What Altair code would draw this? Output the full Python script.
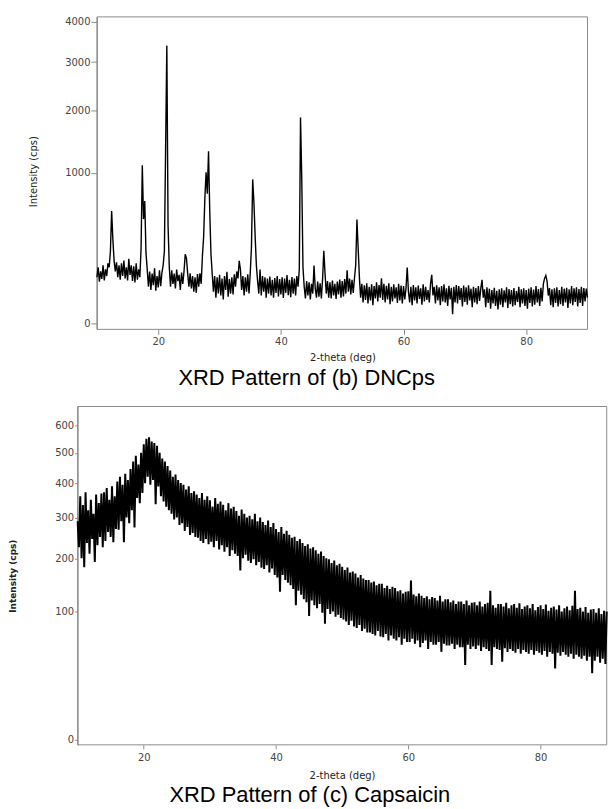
import altair as alt
import pandas as pd

FONT = "DejaVu Sans"
TITLE_FONT = "Liberation Sans"
AXIS_GREY = "#8a8a8a"
LABEL_GREY = "#444444"

# ---- tick values -------------------------------------------------------
X_TICKS = [20, 40, 60, 80]
DNC_Y_TICKS = [0, 1000, 2000, 3000, 4000]
CAP_Y_TICKS = [0, 100, 200, 300, 400, 500, 600]

# ---- scan grid (2-theta, deg) -------------------------------------------
SCAN_START = 10.0
SCAN_STEP = 0.2

# ---- (b) DNCps intensities (cps), 10..90 deg --------------------------------
DNC_CPS = [
    95, 140, 78, 120, 88, 150, 82, 130, 100, 160,
    140, 230, 556, 310, 175, 120, 165, 95, 150, 85,
    160, 100, 175, 90, 140, 82, 185, 105, 150, 80,
    145, 75, 160, 85, 130, 95, 250, 1100, 480, 661,
    220, 130, 60, 120, 50, 110, 65, 135, 48, 100,
    58, 125, 62, 115, 150, 230, 1339, 3388, 420, 140,
    60, 125, 70, 110, 55, 129, 80, 105, 50, 115,
    70, 120, 212, 188, 110, 60, 112, 55, 100, 45,
    95, 42, 108, 60, 112, 70, 200, 330, 686, 1006,
    742, 1304, 550, 210, 110, 45, 100, 30, 95, 40,
    105, 35, 90, 26, 100, 50, 118, 32, 88, 40,
    95, 38, 107, 60, 120, 90, 174, 130, 50, 100,
    35, 95, 45, 107, 40, 110, 260, 913, 650, 340,
    150, 80, 40, 129, 35, 100, 45, 95, 30, 90,
    40, 98, 35, 85, 30, 92, 42, 100, 33, 88,
    38, 95, 29, 90, 42, 104, 36, 85, 31, 96,
    40, 90, 35, 100, 60, 130, 1865, 930, 140, 60,
    28, 80, 35, 75, 26, 70, 40, 149, 55, 30,
    78, 32, 72, 28, 90, 233, 110, 40, 80, 30,
    75, 28, 82, 35, 70, 27, 78, 38, 86, 30,
    80, 33, 88, 40, 125, 45, 90, 38, 85, 42,
    92, 150, 477, 250, 95, 30, 70, 20, 65, 25,
    72, 18, 60, 24, 68, 15, 62, 28, 75, 22,
    66, 30, 91, 25, 70, 20, 63, 26, 72, 17,
    60, 22, 68, 28, 58, 19, 70, 24, 64, 18,
    62, 26, 55, 139, 45, 20, 60, 15, 66, 24,
    58, 18, 64, 27, 55, 16, 68, 22, 60, 25,
    50, 20, 70, 105, 35, 60, 18, 65, 24, 58,
    15, 62, 22, 68, 20, 55, 14, 63, 26, 57,
    4, 60, 20, 66, 18, 62, 25, 56, 13, 64,
    21, 58, 16, 65, 24, 54, 12, 60, 20, 56,
    17, 62, 23, 55, 85, 30, 52, 12, 58, 19,
    54, 10, 50, 18, 57, 14, 48, 9, 52, 16,
    55, 12, 49, 20, 58, 11, 53, 17, 50, 13,
    56, 15, 47, 21, 60, 12, 52, 18, 55, 14,
    50, 10, 54, 19, 58, 13, 51, 16, 62, 20,
    53, 14, 57, 22, 70, 90, 102, 80, 35, 56,
    15, 52, 12, 55, 19, 58, 13, 50, 17, 60,
    14, 54, 20, 57, 11, 52, 18, 62, 15, 55,
    21, 58, 13, 53, 19, 60, 14, 56, 22, 54,
    30,
]

# ---- (c) Capsaicin intensities (cps), 10..90 deg ----------------------------
CAP_CPS = [
    290, 225, 360, 200, 335, 181, 372, 235, 320, 210,
    350, 245, 310, 192, 365, 230, 340, 250, 368, 225,
    372, 240, 385, 262, 350, 250, 390, 237, 360, 270,
    405, 268, 420, 290, 395, 237, 430, 300, 410, 285,
    445, 320, 470, 274, 490, 355, 460, 340, 500, 370,
    530, 400, 550, 420, 556, 395, 540, 410, 535, 337,
    525, 390, 500, 360, 480, 345, 470, 330, 455, 320,
    440, 310, 420, 295, 427, 300, 410, 280, 400, 285,
    395, 265, 380, 275, 390, 255, 370, 260, 375, 250,
    365, 248, 355, 240, 370, 235, 350, 245, 360, 232,
    348, 238, 330, 225, 355, 240, 338, 220, 345, 230,
    335, 215, 320, 225, 340, 205, 325, 218, 330, 210,
    318, 205, 305, 174, 322, 200, 310, 208, 300, 195,
    305, 190, 295, 198, 310, 185, 290, 192, 300, 180,
    288, 177, 280, 185, 292, 170, 275, 178, 285, 165,
    270, 160, 262, 133, 275, 165, 258, 155, 265, 150,
    255, 145, 248, 138, 250, 110, 240, 135, 245, 128,
    235, 120, 228, 115, 232, 93, 222, 118, 225, 110,
    218, 105, 210, 112, 215, 98, 205, 82, 200, 104,
    198, 96, 190, 100, 195, 92, 185, 95, 188, 90,
    182, 88, 175, 85, 180, 80, 170, 86, 172, 78,
    168, 76, 160, 80, 165, 72, 158, 75, 155, 70,
    155, 70, 150, 68, 152, 66, 145, 72, 148, 65,
    148, 64, 140, 68, 144, 60, 138, 66, 142, 62,
    140, 60, 134, 64, 136, 55, 130, 62, 133, 58,
    134, 58, 154, 62, 128, 56, 125, 60, 130, 52,
    126, 57, 122, 60, 125, 50, 120, 58, 124, 55,
    122, 55, 118, 58, 126, 47, 116, 56, 120, 54,
    120, 54, 115, 56, 118, 50, 112, 55, 116, 52,
    116, 52, 112, 34, 118, 55, 110, 50, 114, 53,
    115, 50, 110, 54, 116, 48, 108, 52, 112, 50,
    114, 48, 135, 34, 110, 52, 106, 50, 112, 49,
    112, 37, 108, 51, 114, 47, 105, 50, 110, 48,
    112, 46, 106, 50, 113, 45, 104, 49, 108, 47,
    110, 45, 105, 49, 112, 44, 102, 48, 107, 46,
    110, 44, 104, 48, 111, 42, 101, 47, 106, 45,
    108, 31, 103, 46, 110, 43, 100, 47, 105, 44,
    108, 42, 102, 45, 109, 40, 135, 44, 104, 42,
    106, 40, 100, 43, 107, 38, 98, 42, 103, 27,
    104, 38, 98, 42, 105, 36, 96, 40, 101, 35,
    100,
]

# ---- scale domains -----------------------------------------------------
FRAME_X = [10, 90]
DNC_X_DOMAIN = [6.852, 90]      # plot area reaches left of the frame
DNC_Y_DOMAIN = [-1.36, 4124]
CAP_X_DOMAIN = [10, 90]
CAP_Y_DOMAIN = [-0.15, 674.4]


def scan_frame(values):
    return pd.DataFrame({
        "theta": [round(SCAN_START + SCAN_STEP * i, 2) for i in range(len(values))],
        "cps": values,
    })


def panel(df, xdom, ydom, width, height, x_axis, y_axis, title, stroke_w):
    xs = alt.Scale(domain=xdom, nice=False, zero=False)
    ys = alt.Scale(type="sqrt", domain=ydom, nice=False, zero=False)
    frame_df = pd.DataFrame({"theta": [FRAME_X[0]], "theta2": [FRAME_X[1]],
                             "cps": [ydom[0]], "cps2": [ydom[1]]})
    frame = alt.Chart(frame_df).mark_rect(
        fillOpacity=0, stroke=AXIS_GREY, strokeWidth=1
    ).encode(
        x=alt.X("theta:Q", scale=xs, axis=x_axis),
        x2="theta2:Q",
        y=alt.Y("cps:Q", scale=ys, axis=y_axis),
        y2="cps2:Q",
    )
    line = alt.Chart(df).mark_line(color="black", strokeWidth=stroke_w).encode(
        x=alt.X("theta:Q", scale=xs, axis=x_axis),
        y=alt.Y("cps:Q", scale=ys, axis=y_axis),
    )
    return alt.layer(frame, line).properties(width=width, height=height, title=title)


common_axis = dict(
    grid=False, labelFont=FONT, labelFontSize=10, labelColor=LABEL_GREY,
    tickColor=AXIS_GREY, domainColor=AXIS_GREY, titleFont=FONT, titleFontSize=10,
    titleColor="#222222", titleFontWeight="normal", labelOverlap=False,
    labelFlush=False, titleBaseline="middle", titleAlign="center", format="d",
)

dnc = panel(
    scan_frame(DNC_CPS), DNC_X_DOMAIN, DNC_Y_DOMAIN, 512.4, 314,
    alt.Axis(values=X_TICKS, domain=False, tickSize=5, labelPadding=2.3,
             title="2-theta (deg)", titleX=266.2, titleY=28.7, **common_axis),
    alt.Axis(values=DNC_Y_TICKS, offset=-19.4, tickSize=6, labelPadding=1,
             title="Intensity (cps)", titleAngle=270, titleX=-63.7, titleY=155,
             **common_axis),
    alt.TitleParams(text="XRD Pattern of (b) DNCps", orient="bottom", anchor="middle",
                    frame="group", font=TITLE_FONT, fontSize=22, fontWeight="normal",
                    color="black", dx=-26, offset=5),
    1.4,
)

cap_axis = dict(common_axis)
cap_axis["titleFontWeight"] = "bold"
cap_axis["titleFontSize"] = 9

cap = panel(
    scan_frame(CAP_CPS), CAP_X_DOMAIN, CAP_Y_DOMAIN, 531.7, 340,
    alt.Axis(values=X_TICKS, domain=False, tickSize=4, labelPadding=4,
             title="2-theta (deg)", titleX=265.7, titleY=30.6, **common_axis),
    alt.Axis(values=CAP_Y_TICKS, tickSize=3, labelPadding=1,
             title="Intensity (cps)", titleAngle=270, titleX=-65.3, titleY=170,
             **cap_axis),
    alt.TitleParams(text="XRD Pattern of (c) Capsaicin", orient="bottom", anchor="middle",
                    frame="group", font=TITLE_FONT, fontSize=22, fontWeight="normal",
                    color="black", dx=-32.5, offset=5),
    2.0,
)

chart = alt.vconcat(dnc, cap, spacing=16.5).properties(
    padding={"left": 8, "top": 14, "right": 0, "bottom": 0},
    background="white",
).configure_view(stroke=None)

chart.save("out.html", embed_options={"renderer": "svg", "actions": False})
